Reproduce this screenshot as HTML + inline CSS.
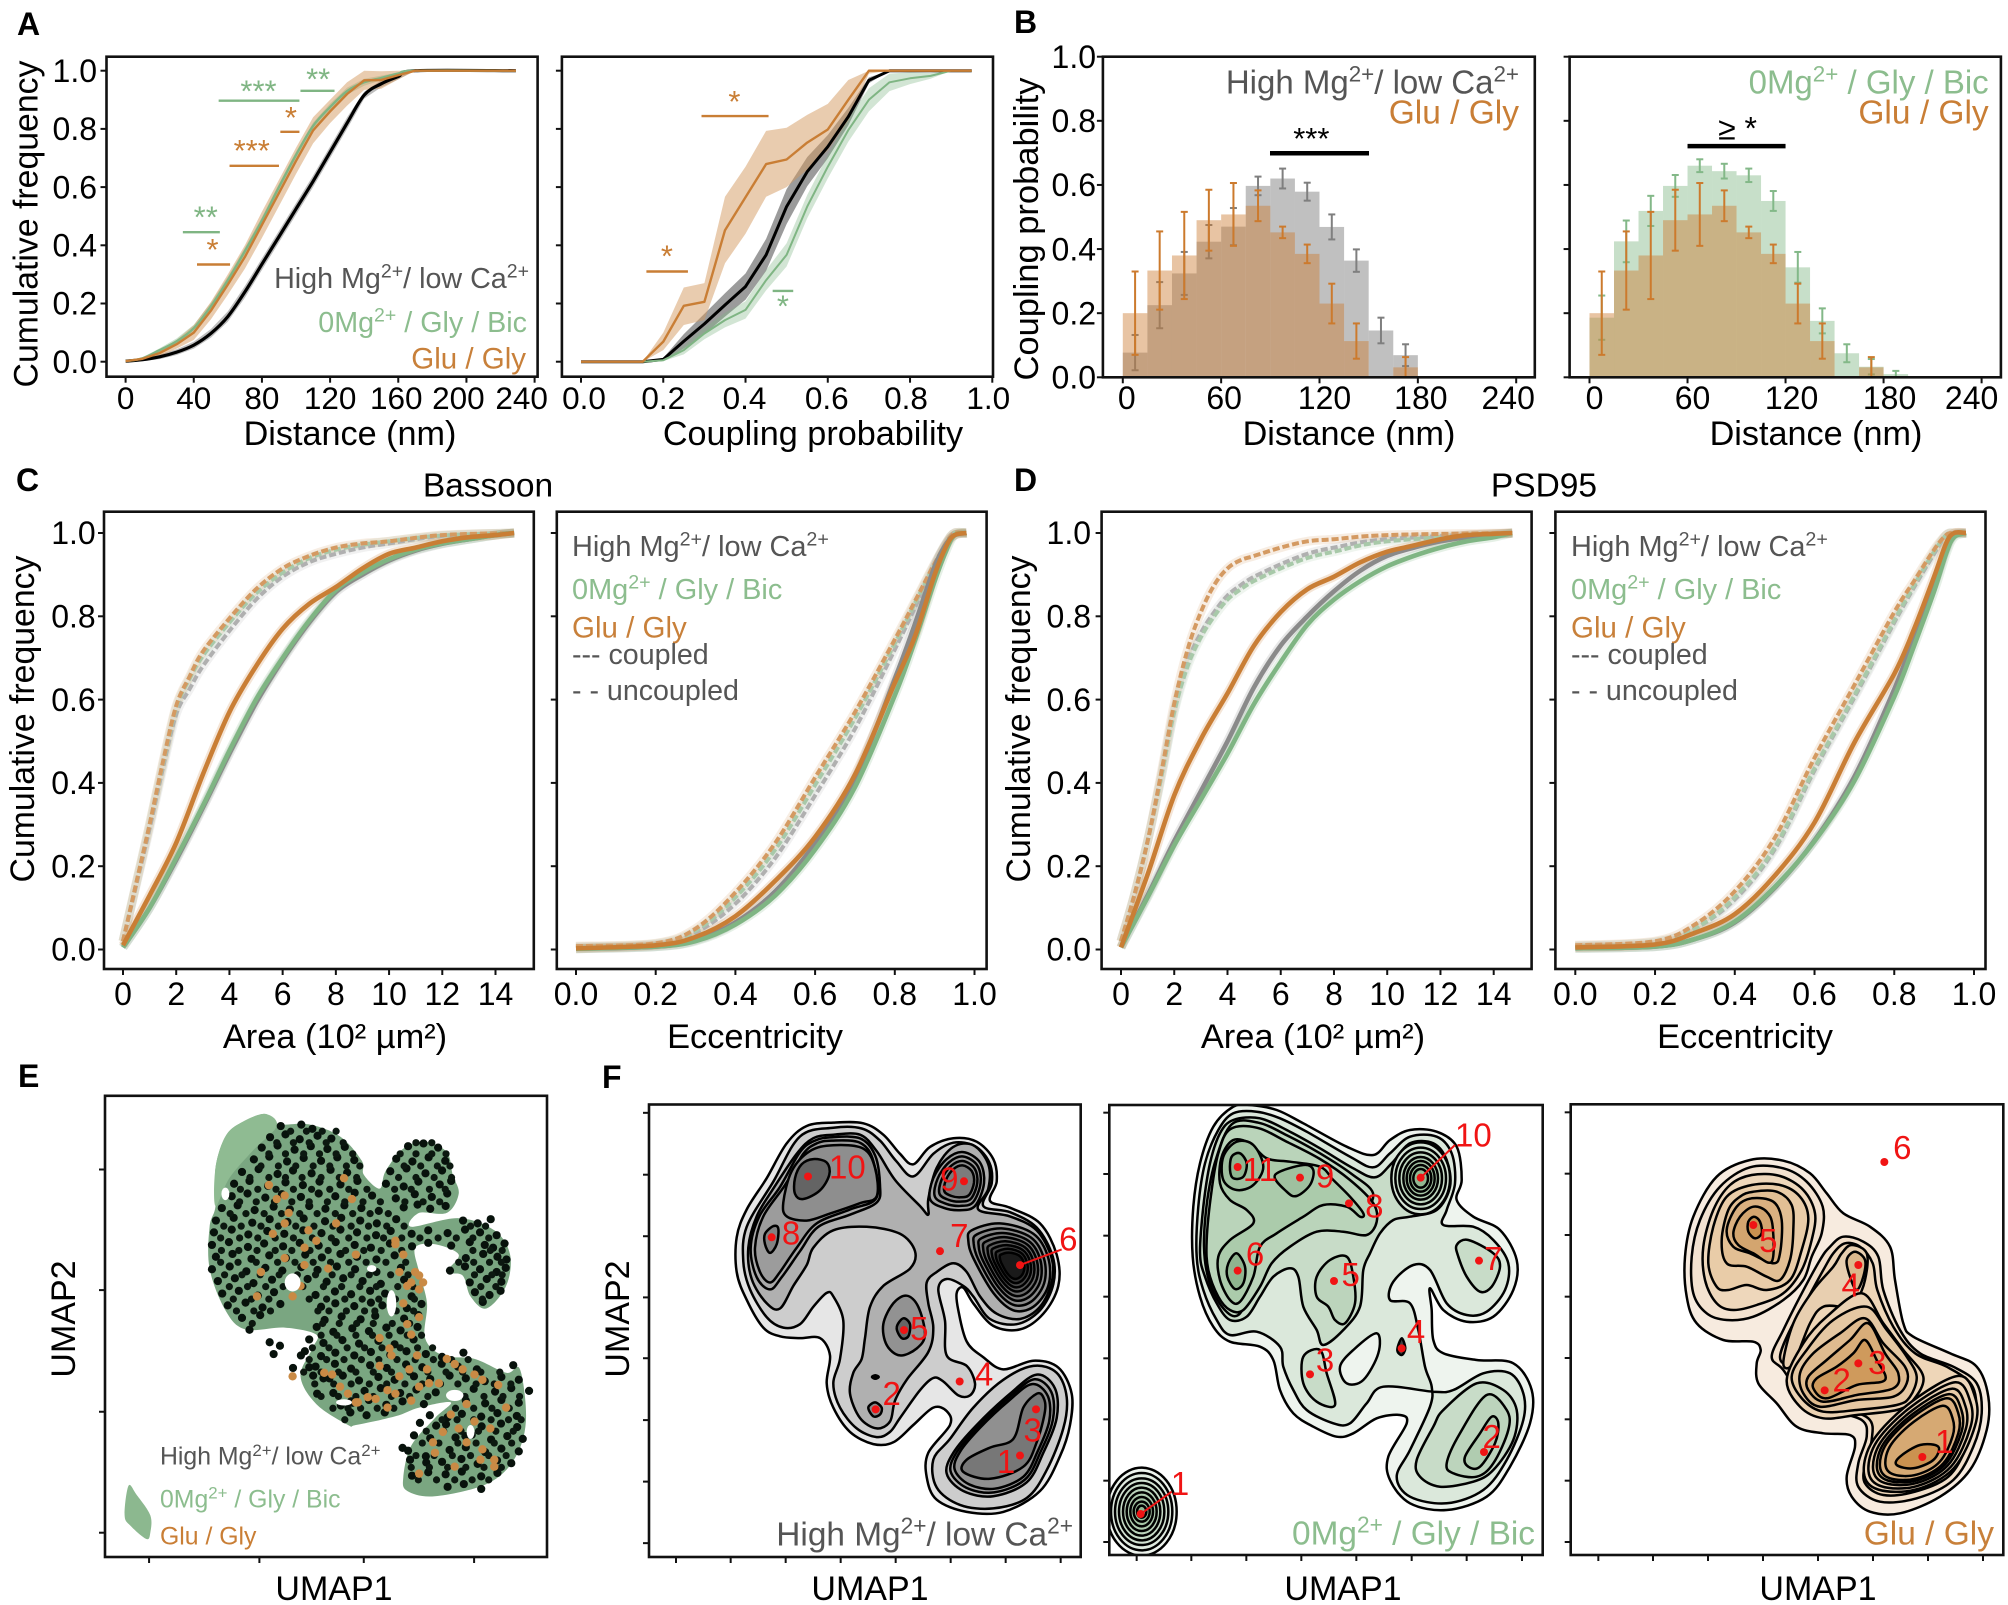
<!DOCTYPE html>
<html lang="en">
<head>
<meta charset="utf-8">
<title>Coupling and UMAP figure</title>
<style>
html,body{margin:0;padding:0;background:#fff;}
svg{display:block;}
text{font-family:"Liberation Sans",Arial,sans-serif;white-space:pre;}
</style>
</head>
<body>
<svg id="fig" xmlns="http://www.w3.org/2000/svg" width="2008" height="1605" viewBox="0 0 2008 1605"></svg>
<script>
/* ---------- Panel A data ---------- */
const aDistX=[0,10,20,30,40,50,60,70,80,90,100,110,120,130,140,150,160,170,229];
const aDistBlack=[.002,.007,.017,.033,.057,.097,.155,.24,.335,.43,.525,.62,.72,.82,.916,.955,.98,1,1];
const aDistOrange=[.002,.01,.03,.06,.1,.175,.265,.36,.47,.58,.69,.795,.86,.92,.967,.968,.985,1,1];
const aDistGreen=[.002,.012,.04,.07,.115,.19,.28,.38,.485,.6,.71,.81,.875,.93,.96,.975,.99,1,1];
const aDistBlackErr=[.004,.005,.008,.01,.012,.015,.018,.02,.02,.02,.02,.02,.02,.02,.012,.012,.01,0,0];
const aDistOrangeErr=[0,.005,.01,.015,.025,.03,.035,.04,.045,.045,.045,.045,.04,.04,.033,.03,.015,0,0];
const aDistGreenErr=[0,.003,.006,.01,.012,.012,.012,.012,.012,.012,.012,.012,.012,.012,.012,.008,.005,0,0];
const aProbX=[0,.15,.2,.25,.3,.35,.4,.45,.5,.55,.6,.65,.7,.75,.8,.85,.9,.95];
const aProbBlack=[0,0,.008,.07,.13,.195,.258,.367,.533,.653,.739,.842,.967,1,1,1,1,1];
const aProbBlackErr=[0,0,.005,.025,.035,.04,.045,.055,.06,.05,.04,.03,.01,0,0,0,0,0];
const aProbOrange=[0,0,.069,.192,.206,.452,.565,.679,.695,.753,.798,.9,1,1,1,1,1,1];
const aProbOrangeHi=[0,0,.1,.255,.27,.567,.67,.793,.804,.848,.886,.968,1,1,1,1,1,1];
const aProbOrangeLo=[0,0,.04,.126,.143,.338,.44,.567,.6,.66,.727,.83,.99,1,1,1,1,1];
const aProbGreen=[0,0,.005,.04,.097,.143,.178,.28,.367,.533,.67,.796,.9,.96,.974,.982,1,1];
const aProbGreenErr=[0,0,.003,.015,.02,.025,.03,.035,.04,.04,.04,.04,.04,.03,.02,.01,0,0];
const unitTicks=[0,.2,.4,.6,.8,1];
const unitTickLabels=['0.0','0.2','0.4','0.6','0.8','1.0'];
const aDistTicks=[0,40,80,120,160,200,240];
const aDistTickLabels=['0','40','80','120','160','200','240'];
const bDistTicks=[0,60,120,180,240];
const bDistTickLabels=['0','60','120','180','240'];
const areaTicks=[0,2,4,6,8,10,12,14];
const areaTickLabels=['0','2','4','6','8','10','12','14'];

/* significance annotations: x1, x2, y of bar in data units */
const aDistSigGreen=[[102.6,122.6,.931],[54.6,102,.897],[33.6,55.3,.445]];
const aDistSigOrange=[[90.8,102,.79],[61,90,.673],[41.9,61.3,.334]];
const aDistStarGreen=[['**',113,.985],['***',78,.945],['**',47,.512]];
const aDistStarOrange=[['*',97,.853],['***',74,.739],['*',51,.399]];
const aProbSigOrange=[[.293,.456,.844],[.159,.26,.31]];
const aProbStarOrange=[['*',.373,.909],['*',.209,.378]];
const aProbSigGreen=[[.466,.516,.243]];
const aProbStarGreen=[['*',.491,.206]];

/* ---------- Panel B data ---------- */
const bBins=[0,15,30,45,60,75,90,105,120,135,150,165,180];
const bGray=[.077,.225,.324,.423,.47,.597,.62,.579,.469,.364,.146,.069,0];
const bGrayErr=[.055,.072,.067,.052,.058,.029,.031,.028,.039,.035,.04,.034,0];
const bOrange=[.2,.333,.38,.49,.508,.535,.452,.385,.23,.113,0,.031,0];
const bOrangeErr=[.13,.122,.136,.095,.098,.048,.018,.029,.062,.055,0,.032,0];
const bGreen=[.186,.424,.519,.597,.66,.643,.63,.55,.343,.176,.075,.033,.01];
const bGreenErr=[.069,.065,.047,.034,.02,.023,.021,.031,.048,.039,.028,.024,.01];

/* ---------- Panels C, D data ---------- */
const cAreaX=[0,1,2,3,4,5,6,7,8,9,10,11,12,13,14,14.7];
const cAreaGreen=[.005,.1,.22,.345,.477,.6,.7,.79,.863,.905,.937,.96,.975,.985,.995,1];
const cAreaGray=[.005,.1,.215,.34,.47,.592,.695,.785,.858,.9,.934,.958,.974,.985,.995,1];
const cAreaOrange=[.01,.13,.256,.42,.57,.68,.77,.83,.87,.915,.95,.965,.98,.99,.995,1];
const cAreaDashX=[0,.5,1,1.5,2,2.5,3,4,5,6,7,8,9,10,12,14.7];
const cAreaDashOrange=[.02,.16,.3,.45,.585,.655,.715,.795,.865,.915,.945,.965,.975,.98,.995,1];
const cAreaDashGreen=[.02,.16,.3,.445,.58,.65,.705,.785,.855,.905,.94,.96,.972,.98,.994,1];
const cAreaDashGray=[.02,.155,.29,.435,.565,.625,.68,.765,.84,.895,.93,.95,.965,.975,.993,1];
const eccX=[0,.2,.3,.4,.5,.6,.7,.8,.85,.9,.93,.95,.98];
const cEccGreen=[.002,.007,.02,.06,.13,.24,.39,.61,.74,.885,.96,.995,1];
const cEccGray=[.002,.007,.022,.065,.14,.255,.41,.65,.78,.92,.975,.995,1];
const cEccOrange=[.003,.01,.03,.08,.165,.27,.42,.64,.75,.9,.97,.995,1];
const cEccDashOrange=[.008,.015,.05,.137,.256,.413,.57,.744,.835,.927,.978,1,1];
const cEccDashGreen=[.006,.014,.045,.125,.24,.395,.555,.735,.83,.925,.978,1,1];
const cEccDashGray=[.006,.012,.04,.11,.22,.37,.53,.72,.82,.92,.975,1,1];
const dAreaGreen=[.005,.125,.25,.36,.47,.59,.69,.78,.84,.885,.92,.945,.965,.98,.99,1];
const dAreaGray=[.005,.13,.26,.38,.5,.63,.73,.8,.86,.91,.945,.965,.98,.99,.995,1];
const dAreaOrange=[.005,.18,.37,.505,.615,.73,.81,.865,.895,.93,.955,.97,.985,.995,.998,1];
const dAreaDashX=[0,.5,1,1.5,2,2.5,3,3.5,4,4.5,5,6,7,8,10,14.7];
const dAreaDashOrange=[.02,.13,.26,.42,.59,.72,.81,.875,.915,.935,.945,.965,.98,.985,.995,1];
const dAreaDashGreen=[.02,.13,.26,.41,.57,.68,.75,.8,.84,.865,.885,.915,.94,.955,.98,1];
const dAreaDashGray=[.02,.13,.26,.41,.575,.69,.76,.81,.85,.875,.895,.925,.95,.965,.985,1];
const dEccGreen=[.003,.007,.025,.067,.15,.26,.405,.607,.73,.86,.95,.99,1];
const dEccGray=[.003,.007,.025,.065,.148,.262,.415,.625,.75,.875,.96,.995,1];
const dEccOrange=[.005,.012,.04,.085,.177,.305,.497,.662,.77,.895,.975,1,1];
const dEccDashOrange=[.01,.02,.06,.14,.268,.46,.635,.81,.885,.96,.995,1,1];
const dEccDashGreen=[.008,.018,.05,.125,.245,.435,.61,.79,.875,.955,.995,1,1];
const dEccDashGray=[.008,.017,.05,.12,.24,.43,.605,.785,.87,.95,.995,1,1];

/* ---------- Panel E data (arbitrary UMAP units) ---------- */
const eTicksX=[377,656,920,1199];
const eTicksY=[315,662,1012,1360];
const eBlobMain=[[670,155],[700,185],[780,185],[860,220],[915,290],[920,330],[960,370],[975,320],[1020,255],[1075,235],[1130,265],[1145,330],[1160,385],[1130,440],[1060,440],[1040,480],[1160,455],[1250,490],[1290,560],[1280,650],[1230,715],[1190,680],[1170,620],[1130,610],[1160,560],[1100,530],[1050,540],[1060,610],[1080,700],[1075,800],[1120,850],[1200,860],[1280,900],[1315,890],[1330,1040],[1300,1150],[1230,1220],[1100,1255],[1030,1240],[1020,1200],[1040,1110],[1100,1030],[1140,985],[1060,1000],[1000,1025],[900,1050],[880,1050],[800,990],[760,910],[790,830],[800,790],[720,770],[620,775],[570,720],[530,600],[530,480],[545,420],[545,310],[570,220],[610,180]];
const eBlobCap=[[670,155],[700,190],[640,260],[580,340],[545,420],[545,310],[570,220],[610,180]];
const eBlobIsland=[[325,1225],[345,1250],[380,1310],[380,1360],[370,1378],[330,1340],[315,1310]];
const eHoles=[[740,640,20,26],[990,700,12,38],[1150,965,22,16],[1190,1070,10,20],[570,385,10,18],[870,985,20,9],[940,600,12,10]];
const eBlackU=[710,762,790,683,722,758,803,838,662,702,745,786,828,872,1032,1071,1108,642,681,726,768,812,853,896,1002,1043,1084,1126,612,654,702,741,788,836,878,987,1028,1076,1118,592,631,678,722,766,808,861,904,976,1021,1058,1112,1141,586,626,671,713,761,806,848,897,941,1001,1049,1092,1131,561,601,644,692,733,782,823,871,914,958,1021,1056,1088,1127,546,591,638,682,727,768,822,863,911,953,1002,1171,1208,1241,541,586,628,676,719,767,813,861,903,951,988,1041,1083,1132,1176,1214,1256,536,579,627,668,716,758,806,849,897,938,986,1042,1083,1141,1188,1226,1247,1276,546,588,636,681,723,772,814,861,903,952,998,1178,1222,1258,1281,536,581,623,671,714,762,803,852,898,952,1014,1138,1176,1214,1256,1279,551,594,641,688,736,778,826,868,917,963,1022,1188,1231,1268,562,604,652,693,798,847,888,936,974,1041,1201,1238,1266,576,621,664,709,812,848,896,938,967,1029,1066,1221,612,658,821,864,912,949,1022,1058,631,801,843,891,933,977,1013,1056,682,708,782,818,866,908,957,998,1046,692,771,812,848,896,938,987,1028,1077,1118,1172,761,798,847,888,936,978,1027,1068,1117,1158,1206,1298,741,782,818,867,908,957,998,1047,1088,1137,1178,1226,1268,1312,792,833,922,963,1012,1053,1102,1198,1252,1293,1338,802,843,892,933,977,1018,1072,1178,1227,1268,1312,862,888,927,973,1132,1168,1217,1258,1307,886,1087,1128,1177,1218,1267,1308,1062,1103,1152,1193,1242,1283,1322,1047,1088,1137,1178,1227,1268,1312,1018,1032,1077,1118,1167,1208,1257,1293,1037,1078,1127,1168,1217,1258,1042,1083,1132,1173,1217];
const eBlackV=[190,186,198,222,214,228,218,226,252,246,258,248,256,250,248,240,252,286,278,292,282,290,280,288,284,292,280,290,322,314,328,318,326,316,324,320,312,326,318,356,348,362,352,360,350,358,348,356,364,350,358,348,392,384,396,386,394,384,392,382,390,398,386,394,384,426,418,432,422,430,420,428,418,426,434,424,416,428,420,462,454,468,458,466,456,464,454,462,470,458,462,470,458,496,488,502,492,500,490,498,488,496,504,492,500,490,498,488,496,504,532,524,538,528,536,526,534,524,532,540,528,536,526,534,524,532,540,528,566,558,572,562,570,560,568,558,566,574,562,570,558,566,574,602,594,608,598,606,596,604,594,602,610,598,606,594,602,610,598,636,628,642,632,640,630,638,628,636,644,632,640,630,638,672,664,678,668,676,666,674,664,672,680,668,676,664,706,698,712,702,710,700,708,698,706,714,702,696,742,734,748,738,746,736,744,734,776,768,782,772,780,770,778,768,812,822,804,814,806,816,808,818,804,846,838,852,842,850,840,848,838,846,854,842,850,882,874,888,878,886,876,884,874,882,890,878,886,884,916,908,922,912,920,910,918,908,916,924,912,920,908,916,952,944,958,948,956,946,954,944,952,960,958,986,978,992,982,990,980,988,978,986,994,982,1022,1014,1028,1018,1026,1016,1024,1014,1022,1048,1082,1054,1046,1056,1044,1052,1086,1078,1092,1082,1090,1080,1088,1122,1114,1128,1118,1126,1116,1124,1140,1156,1148,1162,1152,1160,1150,1158,1192,1184,1198,1188,1196,1186,1228,1220,1234,1224,1232];
const eBlackRowV=[205,238,270,305,338,372,408,442,478,512,548,582,618,652,688,722,758,792,828,862,898,932,968,1002,1035,1068,1102,1138,1172,1208];
const eBlackRowU=[
[735,775,815,850],
[700,742,782,825,868,1052,1092],
[680,722,768,808,850,892,1012,1052,1092,1128],
[660,704,748,792,834,876,910,1022,1064,1106,1138],
[632,680,722,764,812,858,902,1008,1052,1098,1142],
[608,652,698,742,788,834,882,928,998,1040,1086,1126],
[606,648,694,738,782,828,872,918,962,1024,1070,1112],
[582,622,668,712,758,802,848,892,936,982],
[566,610,660,704,748,794,842,888,932,978,1022,1190,1228],
[558,606,652,696,742,790,838,882,928,970,1016,1062,1108,1154,1196,1236],
[560,604,650,696,738,784,830,874,920,964,1016,1196,1240,1270],
[558,602,648,702,746,792,836,882,926,976,1026,1160,1198,1238,1268],
[568,612,658,706,752,798,840,888,934,988,1032,1200,1244,1270],
[580,626,672,716,766,818,864,910,952,1006,1044,1216,1254],
[590,636,680,782,826,872,916,958,1000,1048,1220],
[598,642,684,804,832,876,922,948,1002,1046],
[638,816,858,902,944,992,1036],
[812,852,900,942,984,1030,1066],
[790,832,878,922,966,1012,1056,1094],
[782,826,870,914,958,1004,1050,1096,1142,1184],
[768,812,856,900,944,990,1036,1082,1128,1170,1216,1264],
[796,844,888,934,978,1024,1068,1114,1158,1204,1250,1292],
[812,856,900,944,990,1036,1082,1176,1224,1272,1314],
[842,880,912,954,996,1152,1198,1244,1288],
[872,1118,1156,1198,1242,1286,1318],
[1078,1122,1166,1210,1254,1298],
[1068,1110,1158,1204,1250,1294],
[1052,1098,1144,1190,1236,1280],
[1040,1086,1132,1178,1224,1268],
[1058,1104,1150,1194,1236]
];
const eOrangeU=[680,720,870,890,730,780,690,720,770,830,650,740,1000,1020,1050,1030,1060,1020,1060,1040,960,990,960,1010,1080,1130,1170,1220,840,880,930,980,1060,1110,1180,1120,1100,1180,1240,1220,1280,1060,1150,1250,700,660,900,800,850,760,980,740,1200,1040,1000,1060,900,950,1140,1250,820,860,905,1000,1035,1085,1150,1200,1260,1010,1040,1070,1030,985,1055,1095,1160,1215,720,770];
const eOrangeV=[360,390,340,400,440,490,500,570,590,600,680,680,520,560,610,650,660,700,740,790,800,850,880,910,890,860,890,920,905,960,970,1000,940,930,990,1070,1130,1100,1060,1120,1000,1190,1170,1170,400,610,560,520,470,650,950,910,1040,980,530,620,985,975,1020,1150,900,940,985,960,890,930,875,905,935,610,640,640,760,830,850,1100,1060,1150,470,540];

/* ---------- Panel F ticks (arbitrary UMAP units) ---------- */
const f1TicksX=[228,392,557,722,887,1052,1217,1382];
const f1TicksY=[152,330,507,683,858,1036,1213,1390];
const f2TicksX=[140,304,469,634,799,965,1130,1296];
const f2TicksY=[68,252,437,620,805,988,1172,1356];
const f3TicksX=[145,309,474,639,804,969,1134,1299];
const f3TicksY=[67,251,435,620,804,988,1172,1356];

/* ---------- Panel F1 contours ---------- */
const f1Outer=[[700,180],[790,182],[850,215],[900,270],[940,300],[990,250],[1060,225],[1130,235],[1180,285],[1190,350],[1170,405],[1230,425],[1320,470],[1370,560],[1375,650],[1330,730],[1260,775],[1180,765],[1120,700],[1090,655],[1070,670],[1075,720],[1100,810],[1150,855],[1210,890],[1300,865],[1375,885],[1415,960],[1410,1050],[1380,1140],[1320,1240],[1210,1300],[1100,1300],[1010,1265],[980,1200],[985,1130],[1050,1050],[1040,1010],[1000,1000],[940,1050],[880,1100],[820,1105],[750,1070],[700,1000],[680,930],[690,850],[660,800],[600,800],[540,795],[490,770],[440,690],[410,610],[410,510],[440,430],[500,340],[560,240],[620,190]];
const f1Upper=[[700,195],[785,197],[840,232],[888,290],[940,335],[1000,270],[1060,238],[1125,248],[1168,295],[1175,355],[1150,420],[1230,438],[1310,482],[1358,565],[1360,645],[1320,720],[1250,760],[1170,745],[1120,680],[1090,650],[1040,630],[1015,660],[1035,750],[1040,850],[1100,880],[1125,930],[1110,965],[1075,965],[1030,925],[1000,915],[960,950],[900,1030],[870,1070],[830,1085],[770,1060],[720,1000],[700,930],[720,860],[730,750],[700,680],[680,670],[640,710],[600,760],[550,770],[500,740],[450,660],[430,580],[440,480],[520,350],[600,220]];
const f1LowerLobe=[[1300,880],[1370,900],[1400,970],[1390,1060],[1340,1180],[1280,1260],[1180,1290],[1080,1280],[1010,1230],[1000,1150],[1050,1090],[1120,1000],[1210,920]];
const f1Mid=[[700,215],[780,215],[830,262],[885,345],[960,420],[985,445],[985,400],[1010,310],[1060,250],[1120,245],[1165,300],[1165,370],[1135,430],[1230,450],[1310,490],[1355,570],[1355,640],[1320,710],[1260,745],[1190,730],[1140,680],[1100,610],[1060,585],[1010,610],[980,640],[985,700],[1000,770],[985,840],[920,920],[885,980],[870,1040],[830,1060],[780,1030],[750,960],[760,900],[785,860],[795,800],[810,710],[850,650],[930,600],[945,550],[900,500],[800,480],[700,490],[640,540],[620,590],[580,650],[540,715],[500,700],[455,630],[445,540],[470,450],[520,370],[590,270],[640,225]];
const f1TopLeft0=[[697,222],[782,226],[826,276],[840,360],[830,410],[750,445],[655,480],[600,550],[545,625],[510,660],[470,625],[452,540],[478,450],[540,365],[600,265],[645,232]];
const f1TopLeft=[[695,232],[780,238],[820,290],[830,395],[750,430],[650,470],[590,540],[540,610],[510,640],[480,610],[465,540],[490,450],[555,360],[610,270],[650,240]];
const f1Lobe10=[[700,245],[790,255],[825,310],[830,392],[780,412],[690,442],[620,462],[560,450],[550,410],[575,320],[630,262]];
const f1Core10=[[640,285],[680,295],[688,330],[660,375],[610,400],[585,385],[585,340],[605,300]];
const f1Core8=[[495,500],[520,478],[535,485],[530,530],[510,555],[495,530]];
const f1Lobe5=[[850,760],[880,700],[920,678],[955,710],[975,790],[950,830],[900,850],[860,820]];
const f1Core5=[[890,770],[910,743],[930,760],[925,795],[905,800]];
const f1Core2=[[805,1000],[825,985],[845,1000],[840,1020],[820,1025]];
const f1Spot=[[816,912],[826,907],[836,912],[826,917]];
const f1Layers=[f1Outer,f1Upper,f1LowerLobe,f1Mid,f1TopLeft0,f1TopLeft,f1Lobe10,f1Core10,f1Core8,f1Lobe5,f1Core5,f1Core2,f1Spot];
const f1LayerFills=['#e6e6e6','#cdcdcd','#cdcdcd','#b0b0b0','#a8a8a8','#9c9c9c','#8e8e8e','#646464','#828282','#929292','#666666','#888888','#000000'];
const f1Lobe9=[[1000,340],[1040,285],[1090,265],[1140,295],[1152,355],[1125,420],[1080,432],[1030,425],[990,400]];
const f1Lobe9Center=[1085,350];
const f1Lobe9Scales=[1,.85,.7,.55];
const f1Lobe9Fills=['#a4a4a4','#989898','#8a8a8a','#7c7c7c'];
const f1Peak6=[[1115,490],[1200,470],[1300,500],[1345,570],[1345,650],[1300,710],[1240,720],[1180,670],[1120,570],[1105,520]];
const f1Peak6Center=[1240,590];
const f1Peak6Scales=[1,.88,.77,.67,.57,.48,.39,.3];
const f1Peak6Fills=['#989898','#8a8a8a','#7a7a7a','#6a6a6a','#5a5a5a','#484848','#333333','#1a1a1a'];
const f1Lobe1=[[1310,905],[1365,945],[1370,1030],[1330,1130],[1280,1215],[1180,1255],[1090,1240],[1040,1190],[1060,1130],[1130,1050],[1230,960]];
const f1Lobe1Center=[1210,1100];
const f1Lobe1Scales=[1,.93,.86];
const f1Lobe1Fills=['#b4b4b4','#a2a2a2','#909090'];
const f1Lobe1Core=[[1330,970],[1335,1010],[1310,1100],[1270,1170],[1170,1205],[1090,1185],[1100,1150],[1170,1115],[1240,1090],[1270,1000],[1310,960]];
const f1MarkerIds=['1','2','3','4','5','6','7','8','9','10'];
const f1MarkerU=[1260,827,1308,1079,912,1260,1020,515,1092,624];
const f1MarkerV=[1138,1005,1005,925,777,590,550,510,349,335];
const f1NumberU=[1218,875,1298,1152,958,1405,1078,573,1048,742];
const f1NumberV=[1155,960,1065,903,772,515,505,498,342,308];

/* ---------- Panel F2 contours ---------- */
const f2Outer=[[430,50],[480,45],[560,60],[640,100],[770,170],[850,195],[900,150],[960,120],[1040,125],[1100,170],[1115,270],[1100,330],[1150,380],[1230,420],[1280,510],[1270,600],[1210,680],[1130,695],[1060,660],[1020,595],[1025,660],[1030,750],[1060,790],[1160,810],[1270,820],[1325,900],[1320,1000],[1260,1130],[1190,1220],[1070,1260],[960,1240],[900,1170],[895,1100],[950,1000],[930,975],[860,985],[790,1030],[740,1040],[670,1010],[610,970],[570,900],[550,810],[510,770],[420,755],[370,710],[330,620],[308,500],[310,350],[330,220],[370,110]];
const f2Ring1=[[430,70],[500,65],[570,85],[650,125],[780,200],[850,232],[900,190],[960,140],[1040,140],[1085,190],[1095,280],[1070,360],[1060,405],[1150,410],[1210,450],[1255,520],[1245,600],[1190,665],[1130,675],[1070,640],[1020,540],[970,525],[910,575],[900,630],[960,640],[985,720],[1005,830],[1025,890],[1020,950],[960,1080],[920,1160],[960,1220],[1070,1240],[1180,1200],[1250,1110],[1300,990],[1300,910],[1260,850],[1180,850],[1090,900],[1030,905],[880,890],[830,940],[780,1000],[730,1000],[650,960],[610,900],[580,830],[570,770],[500,725],[420,735],[380,690],[340,600],[320,500],[325,350],[345,220],[385,120]];
const f2Hole=[[750,830],[790,780],[860,730],[865,790],[820,870],[770,880]];
const f2Ring2=[[430,90],[510,85],[600,125],[690,175],[790,235],[855,262],[905,220],[960,160],[1030,160],[1070,210],[1080,290],[1040,360],[960,380],[910,390],[870,430],[840,490],[820,540],[810,650],[760,720],[700,765],[680,720],[640,650],[625,560],[600,535],[550,560],[510,620],[470,680],[420,690],[380,640],[345,560],[330,490],[340,350],[360,220],[390,130]];
const f2Lobe3=[[640,800],[690,780],[710,850],[735,945],[680,935],[640,880]];
const f2Lobe5=[[680,560],[720,510],[770,500],[790,560],[795,640],[765,700],[735,690],[715,650],[680,620]];
const f2Lobe7=[[1100,465],[1135,450],[1210,490],[1230,530],[1205,590],[1170,605],[1130,560],[1105,500]];
const f2Bundle=[[425,103],[505,98],[595,138],[690,190],[785,252],[850,315],[790,390],[650,405],[540,480],[490,590],[445,675],[400,655],[358,575],[342,470],[352,330],[377,210]];
const f2Ring3=[[420,118],[500,113],[590,155],[690,207],[780,270],[850,340],[860,395],[830,435],[760,425],[680,425],[600,470],[545,520],[510,590],[460,660],[420,660],[385,620],[355,540],[350,450],[365,300],[385,190]];
const f2Core=[[430,150],[480,160],[530,205],[600,215],[690,230],[730,270],[780,320],[820,370],[810,380],[770,350],[700,345],[640,380],[560,430],[510,470],[490,560],[450,635],[420,630],[390,570],[385,500],[420,450],[490,400],[470,360],[420,330],[390,280],[395,200]];
const f2Lobe11=[[400,200],[440,155],[490,165],[520,230],[490,285],[440,300],[400,270]];
const f2Core11=[[425,200],[450,190],[470,220],[460,260],[430,265],[420,240]];
const f2Lobe9=[[555,255],[640,225],[670,240],[660,285],[620,318],[590,305]];
const f2Lobe6=[[415,520],[440,490],[465,530],[460,580],[435,597],[412,560]];
const f2Lobe2A=[[1060,960],[1160,880],[1240,900],[1280,960],[1270,1050],[1210,1140],[1150,1175],[1050,1190],[990,1160],[980,1110],[1030,1010]];
const f2Lobe2B=[[1190,915],[1250,960],[1255,1020],[1210,1120],[1160,1160],[1090,1150],[1070,1120],[1110,1030]];
const f2Lobe2C=[[1205,980],[1225,1000],[1215,1060],[1170,1130],[1135,1130],[1125,1100],[1170,1030]];
const f2Spot4=[[935,745],[946,775],[935,795],[922,780]];
const f2Layers=[f2Outer,f2Ring1,f2Hole,f2Ring2,f2Lobe3,f2Lobe5,f2Lobe7,f2Bundle,f2Ring3,f2Core,f2Lobe11,f2Core11,f2Lobe9,f2Lobe6,f2Lobe2A,f2Lobe2B,f2Lobe2C,f2Spot4];
const f2LayerFills=['#eef4ee','#dbe8db','#eef4ee','#c8dcc8','#c8dcc8','#bcd4bc','#c8dcc8','#c1d8c1','#bad4ba','#abcbab','#9fc09f','#8fb58f','#9fc09f','#8fb58f','#c8dcc8','#bcd4bc','#b0ccb0','#444444'];
const f2Peak10Center=[992,265];
const f2Peak10Radii=[[88,108],[76,92],[64,78],[52,64],[42,52],[32,40],[22,28]];
const f2Peak10Fills=['#d6e5d6','#cadeca','#bed6be','#b2cfb2','#a6c7a6','#9cc09c','#92b992'];
const f2Peak1Center=[155,1265];
const f2Peak1Radii=[[105,132],[92,116],[80,100],[68,86],[56,72],[45,58],[34,44],[24,30],[14,18]];
const f2Peak1Fills=['#eef4ee','#e0ebe0','#d2e2d2','#c6dbc6','#bad3ba','#aecbae','#a4c4a4','#9abd9a','#90b690'];
const f2MarkerIds=['1','2','3','4','5','6','7','8','9','10','11'];
const f2MarkerU=[152,1182,660,935,732,443,1167,777,630,992,443];
const f2MarkerV=[1272,1086,853,775,573,542,512,340,263,263,231];
const f2NumberU=[270,1205,705,978,782,495,1210,853,705,1150,510];
const f2NumberV=[1180,1040,810,725,553,492,505,348,258,135,238];

/* ---------- Panel F3 contours ---------- */
const f3Outer=[[600,210],[700,212],[780,250],[830,310],[880,370],[960,410],[1020,470],[1035,570],[1060,700],[1090,740],[1200,790],[1280,830],[1315,920],[1310,1020],[1260,1140],[1170,1220],[1050,1270],[960,1265],[905,1220],[890,1160],[915,1070],[900,1035],[820,1030],[740,1010],[680,940],[625,880],[620,820],[632,780],[610,755],[520,750],[440,700],[410,620],[405,500],[430,380],[500,260]];
const f3U1=[[600,232],[700,235],[770,275],[818,350],[815,430],[785,500],[760,570],[700,630],[610,680],[530,690],[470,670],[430,610],[425,500],[450,390],[510,290]];
const f3U2=[[605,255],[690,258],[760,300],[795,370],[785,450],[755,540],[700,610],[620,645],[550,660],[500,640],[465,570],[460,470],[490,360],[540,285]];
const f3U3=[[605,285],[690,285],[750,320],[775,385],[755,480],[720,570],[650,600],[590,585],[535,600],[500,590],[475,520],[490,410],[530,320]];
const f3U4=[[610,305],[680,305],[725,345],[730,420],[720,510],[690,570],[650,560],[590,530],[530,520],[515,450],[535,360],[570,320]];
const f3U5=[[605,325],[670,335],[695,390],[690,490],[670,520],[600,490],[550,470],[530,420],[560,350]];
const f3U6=[[610,350],[650,365],[668,410],[665,515],[610,490],[565,465],[550,430],[570,380]];
const f3U7=[[612,380],[630,395],[635,430],[615,445],[595,425],[595,395]];
const f3A1=[[880,440],[940,455],[985,500],[1000,600],[1050,720],[1110,790],[1210,830],[1280,880],[1295,970],[1270,1070],[1210,1170],[1100,1225],[990,1235],[925,1190],[925,1120],[950,1040],[935,990],[840,960],[760,925],[700,840],[665,800],[700,720],[750,620],[810,510],[840,470]];
const f3A2=[[885,460],[930,470],[968,520],[982,600],[1030,710],[1095,790],[1190,830],[1265,885],[1278,970],[1250,1070],[1195,1160],[1095,1205],[1000,1215],[945,1180],[945,1120],[965,1050],[955,985],[845,945],[770,905],[715,835],[690,800],[720,720],[765,640],[820,540],[850,490]];
const f3Lobe4=[[875,490],[905,465],[950,490],[945,570],[920,630],[890,650],[820,650],[780,700],[730,820],[700,820],[730,700],[790,600],[850,530]];
const f3Lobe4Core=[[890,510],[915,485],[945,510],[940,560],[920,600],[900,560]];
const f3M0=[[935,610],[1000,700],[1060,780],[1120,860],[1090,930],[1040,960],[920,975],[820,985],[750,950],[710,870],[760,760],[830,680]];
const f3M1=[[950,650],[1010,720],[1070,800],[1100,860],[1080,920],[1040,945],[920,960],[820,965],[760,930],[725,860],[770,780],[850,690]];
const f3M2=[[945,685],[1000,760],[1065,830],[1070,880],[1030,920],[920,930],[810,950],[760,910],[750,850],[790,790],[870,730]];
const f3M3=[[955,700],[1005,790],[1045,850],[1030,895],[920,915],[820,935],[775,900],[775,860],[830,810],[900,750]];
const f3M4=[[945,750],[980,810],[1005,870],[920,885],[830,925],[790,895],[800,865],[860,830],[910,790]];
const f3Layers=[f3Outer,f3U1,f3U2,f3U3,f3U4,f3U5,f3U6,f3U7,f3A1,f3A2,f3Lobe4,f3Lobe4Core,f3M0,f3M1,f3M2,f3M3,f3M4];
const f3LayerFills=['#f7ebdf','#f3e2d0','#eed7bb','#e9cca8','#e2bf94','#dab080','#d3a56f','#c99250','#f2dfca','#eed6b8','#e8cfb0','#dbb88c','#ebd2b3','#e5c8a3','#dfbb8f','#d8ad79','#cf9a5c'];
const f3Lobe1=[[1190,925],[1225,970],[1225,1030],[1180,1120],[1100,1165],[1020,1165],[990,1130],[1010,1060],[1090,980]];
const f3Lobe1Center=[1105,1085];
const f3Lobe1Scales=[1.42,1.3,1.18,1.08,1,.86];
const f3Lobe1Fills=['#eed7bc','#ecd3b4','#e8cca8','#e2c092','#dcb282','#d6a973'];
const f3Lobe1Core=[[1165,1070],[1150,1110],[1090,1135],[1040,1125],[1050,1100],[1110,1065]];
const f3MarkerIds=['1','2','3','4','5','6'];
const f3MarkerU=[1117,824,925,925,610,1003];
const f3MarkerV=[1101,901,820,525,405,216];
const f3NumberU=[1183,875,982,902,655,1057];
const f3NumberV=[1055,870,818,585,452,173];

/* ---------- helpers ---------- */
const svg=document.getElementById('fig');
const NS='http://www.w3.org/2000/svg';
const BLACK='#000',GRN='#7fb583',ORG='#c97e35',GRY='#8a8a8a',TXTGRY='#555555',TXTGRN='#8cbd8e',TXTORG='#c8803a';

function mk(parent,tag,attrs,name){
  const e=document.createElementNS(NS,tag);
  for(const k in attrs)e.setAttribute(k,attrs[k]);
  
  
  parent.appendChild(e);
  return e;
}
function linear(d0,d1,r0,r1){return v=>r0+(v-d0)*(r1-r0)/(d1-d0);}
function linePath(xs,ys,sx,sy){return xs.map((x,i)=>(i?'L':'M')+sx(x).toFixed(1)+' '+sy(ys[i]).toFixed(1)).join('');}
function smoothPath(xs,ys,sx,sy){
  const p=xs.map((x,i)=>[sx(x),sy(ys[i])]);
  let d='M'+p[0][0].toFixed(1)+' '+p[0][1].toFixed(1);
  for(let i=0;i<p.length-1;i++){
    const a=p[Math.max(i-1,0)],b=p[i],c=p[i+1],e=p[Math.min(i+2,p.length-1)];
    d+='C'+(b[0]+(c[0]-a[0])/6).toFixed(1)+' '+(b[1]+(c[1]-a[1])/6).toFixed(1)+' '+(c[0]-(e[0]-b[0])/6).toFixed(1)+' '+(c[1]-(e[1]-b[1])/6).toFixed(1)+' '+c[0].toFixed(1)+' '+c[1].toFixed(1);
  }
  return d;
}
function bandPath(xs,hi,lo,sx,sy){
  let d='';
  xs.forEach((x,i)=>{d+=(i?'L':'M')+sx(x).toFixed(1)+' '+sy(hi[i]).toFixed(1);});
  for(let i=xs.length-1;i>=0;i--){d+='L'+sx(xs[i]).toFixed(1)+' '+sy(lo[i]).toFixed(1);}
  return d+'Z';
}
function closedPath(pts,sx,sy){
  const p=pts.map(q=>[sx(q[0]),sy(q[1])]),n=p.length;
  let d='M'+p[0][0].toFixed(1)+' '+p[0][1].toFixed(1);
  for(let i=0;i<n;i++){
    const a=p[(i-1+n)%n],b=p[i],c=p[(i+1)%n],e=p[(i+2)%n];
    d+='C'+(b[0]+(c[0]-a[0])/6).toFixed(1)+' '+(b[1]+(c[1]-a[1])/6).toFixed(1)+' '+(c[0]-(e[0]-b[0])/6).toFixed(1)+' '+(c[1]-(e[1]-b[1])/6).toFixed(1)+' '+c[0].toFixed(1)+' '+c[1].toFixed(1);
  }
  return d+'Z';
}
/* text with ^superscript^ segments; y is the vertical centre of the text */
function txt(parent,x,y,str,size,color,anchor,name,rot){
  const base=y+size*.35;
  const attrs={x:x,y:base,'font-size':size,fill:color,'text-anchor':anchor||'middle'};
  if(rot)attrs.transform='rotate(-90 '+x+' '+y+')',attrs.y=base;
  const t=mk(parent,'text',attrs,name);
  const parts=str.split('^');
  if(parts.length===1){t.textContent=str;return t;}
  const lift=size*.36;let pending=0;
  parts.forEach((s,i)=>{
    if(!s)return;
    const sp=document.createElementNS(NS,'tspan');
    if(i%2){sp.setAttribute('font-size',(size*.68).toFixed(1));sp.setAttribute('dy',(-lift).toFixed(1));pending=lift;}
    else if(pending){sp.setAttribute('dy',pending.toFixed(1));pending=0;}
    sp.textContent=s;
    t.appendChild(sp);
  });
  return t;
}
function frame(parent,x0,x1,y0,y1,name){
  return mk(parent,'rect',{x:x0,y:y0,width:x1-x0,height:y1-y0,fill:'none',stroke:'#111',"stroke-width":2.6},name);
}
function axisX(parent,ticks,labels,sx,yAxis,labelY,size,shifts,prefix){
  ticks.forEach((t,i)=>{
    mk(parent,'line',{x1:sx(t),x2:sx(t),y1:yAxis,y2:yAxis+6,stroke:'#111','stroke-width':2},prefix+'-x-tick');
    if(labels)txt(parent,sx(t)+(shifts?shifts[i]:0),labelY,labels[i],size,'#000','middle',prefix+'-x-tick-label');
  });
}
function axisY(parent,ticks,labels,sy,xAxis,labelX,size,prefix){
  ticks.forEach((t,i)=>{
    mk(parent,'line',{x1:xAxis-6,x2:xAxis,y1:sy(t),y2:sy(t),stroke:'#111','stroke-width':2},prefix+'-y-tick');
    if(labels)txt(parent,labelX,sy(t),labels[i],size,'#000','end',prefix+'-y-tick-label');
  });
}
function stars(parent,list,sx,sy,color,name){
  list.forEach(s=>{
    const size=31;
    const t=mk(parent,'text',{x:sx(s[1]),y:sy(s[2])+size*.47,'font-size':size,fill:color,'text-anchor':'middle'},name);
    t.textContent=s[0];
  });
}
function sigBars(parent,list,sx,sy,color,w,name){
  list.forEach(b=>mk(parent,'line',{x1:sx(b[0]),x2:sx(b[1]),y1:sy(b[2]),y2:sy(b[2]),stroke:color,'stroke-width':w},name));
}
function panelLetter(x,y,s){
  const t=mk(svg,'text',{x:x,y:y,'font-size':32,'font-weight':'bold',fill:'#000'},'panel-label-'+s.toLowerCase());
  t.textContent=s;
}
function addBand(g,xs,ys,err,sx,sy,color,op,name){
  const hi=ys.map((v,i)=>Math.min(1,v+err[i])),lo=ys.map((v,i)=>v-err[i]);
  mk(g,'path',{d:bandPath(xs,hi,lo,sx,sy),fill:color,'fill-opacity':op},name);
}
function addLine(g,d,color,w,name,dash){
  const a={d:d,fill:'none',stroke:color,'stroke-width':w,'stroke-linejoin':'round'};
  if(dash)a['stroke-dasharray']=dash;
  mk(g,'path',a,name);
}

/* ---------- letters & titles ---------- */
panelLetter(17,35,'A');panelLetter(1014,33,'B');panelLetter(16,491,'C');panelLetter(1014,491,'D');panelLetter(18,1087,'E');panelLetter(602,1088,'F');
txt(svg,488,485,'Bassoon',33.5,'#000','middle','bassoon-title');
txt(svg,1544,485,'PSD95',33.5,'#000','middle','psd95-title');

/* ---------- Panel A ---------- */
(function(){
  const g=mk(svg,'g',{},'panel-a-distance');
  const sx=linear(0,240,125.6,534.6),sy=linear(0,1,361.7,70.7);
  addBand(g,aDistX,aDistBlack,aDistBlackErr,sx,sy,'#888',.55,'distance-band-high-mg');
  addBand(g,aDistX,aDistGreen,aDistGreenErr,sx,sy,GRN,.4,'distance-band-0mg');
  addBand(g,aDistX,aDistOrange,aDistOrangeErr,sx,sy,'#d49a5f',.5,'distance-band-glu');
  addLine(g,smoothPath(aDistX,aDistBlack,sx,sy),'#000',3.2,'distance-line-high-mg');
  addLine(g,smoothPath(aDistX,aDistGreen,sx,sy),GRN,2.4,'distance-line-0mg');
  addLine(g,linePath(aDistX,aDistOrange,sx,sy),ORG,2.4,'distance-line-glu');
  sigBars(g,aDistSigGreen,sx,sy,GRN,2.4,'significance-bar-green');
  sigBars(g,aDistSigOrange,sx,sy,ORG,2.4,'significance-bar-orange');
  stars(g,aDistStarGreen,sx,sy,GRN,'significance-stars-green');
  stars(g,aDistStarOrange,sx,sy,ORG,'significance-stars-orange');
  frame(g,106.5,537.6,56.7,376.7,'panel-a-distance-frame');
  axisX(g,aDistTicks,aDistTickLabels,sx,376.7,398,31.5,[0,0,0,0,-2,-8,-13],'panel-a-distance');
  axisY(g,unitTicks,unitTickLabels,sy,106.5,97,32,'panel-a-distance');
  txt(g,350,433,'Distance (nm)',34.2,'#000','middle','distance-x-axis-title');
  txt(g,25.5,224,'Cumulative frequency',33.8,'#000','middle','cumulative-y-axis-title',true);
  txt(g,529,278,'High Mg^2+^/ low Ca^2+',28.7,TXTGRY,'end','legend-high-mg');
  txt(g,527,322,'0Mg^2+^ / Gly / Bic',28.7,TXTGRN,'end','legend-0mg');
  txt(g,526,358,'Glu / Gly',29.5,TXTORG,'end','legend-glu');
})();
(function(){
  const g=mk(svg,'g',{},'panel-a-probability');
  const sx=linear(0,1,581,992.3),sy=linear(0,1,361.7,70.7);
  addBand(g,aProbX,aProbBlack,aProbBlackErr,sx,sy,'#666',.65,'probability-band-high-mg');
  addBand(g,aProbX,aProbGreen,aProbGreenErr,sx,sy,GRN,.35,'probability-band-0mg');
  mk(g,'path',{d:bandPath(aProbX,aProbOrangeHi,aProbOrangeLo,sx,sy),fill:'#d49a5f','fill-opacity':.5},'probability-band-glu');
  addLine(g,linePath(aProbX,aProbBlack,sx,sy),'#000',3,'probability-line-high-mg');
  addLine(g,linePath(aProbX,aProbGreen,sx,sy),GRN,2,'probability-line-0mg');
  addLine(g,linePath(aProbX,aProbOrange,sx,sy),ORG,2.4,'probability-line-glu');
  sigBars(g,aProbSigOrange,sx,sy,ORG,2.4,'significance-bar-orange');
  sigBars(g,aProbSigGreen,sx,sy,GRN,2.4,'significance-bar-green');
  stars(g,aProbStarOrange,sx,sy,ORG,'significance-stars-orange');
  stars(g,aProbStarGreen,sx,sy,GRN,'significance-stars-green');
  frame(g,561.9,993,56.7,376.7,'panel-a-probability-frame');
  axisX(g,unitTicks,unitTickLabels,sx,376.7,398,31.5,[3,0,-1,-1,-4,-4],'panel-a-probability');
  axisY(g,unitTicks,null,sy,561.9,0,0,'panel-a-probability');
  txt(g,813,433,'Coupling probability',34.2,'#000','middle','probability-x-axis-title');
})();

/* ---------- Panel B ---------- */
function barsPanel(name,sx,bars,errs,fill,errColor,g,sy){
  bBins.forEach((b,i)=>{
    if(!bars[i])return;
    mk(g,'rect',{x:sx(b),y:sy(bars[i]),width:sx(b+15)-sx(b),height:sy(0)-sy(bars[i]),fill:fill},name+'-bar');
  });
  bBins.forEach((b,i)=>{
    if(!errs[i])return;
    const c=sx(b+7.5),hi=sy(bars[i]+errs[i]),lo=sy(Math.max(0,bars[i]-errs[i]));
    mk(g,'line',{x1:c,x2:c,y1:hi,y2:lo,stroke:errColor,'stroke-width':2},name+'-error-bar');
    mk(g,'line',{x1:c-3.5,x2:c+3.5,y1:hi,y2:hi,stroke:errColor,'stroke-width':2},name+'-error-cap');
    mk(g,'line',{x1:c-3.5,x2:c+3.5,y1:lo,y2:lo,stroke:errColor,'stroke-width':2},name+'-error-cap');
  });
}
(function(){
  const g=mk(svg,'g',{},'panel-b-left');
  const sx=linear(0,240,1122.8,1516.2),sy=linear(0,1,377.3,56.7);
  barsPanel('high-mg',sx,bGray,bGrayErr,'rgba(130,130,130,.5)','#7f7f7f',g,sy);
  barsPanel('glu',sx,bOrange,bOrangeErr,'rgba(205,125,50,.45)','#cc7a2d',g,sy);
  mk(g,'line',{x1:sx(89.8),x2:sx(150.2),y1:sy(.699),y2:sy(.699),stroke:'#000','stroke-width':4.5},'significance-bar-black');
  stars(g,[['***',115,.758]],sx,sy,'#000','significance-stars-black');
  frame(g,1102.9,1534.8,56.7,377.3,'panel-b-left-frame');
  axisX(g,bDistTicks,bDistTickLabels,sx,377.3,398,32,[4,3,5,3,-8],'panel-b-left');
  axisY(g,unitTicks,unitTickLabels,sy,1102.9,1096,32,'panel-b-left');
  txt(g,1349,433,'Distance (nm)',34.2,'#000','middle','panel-b-left-x-axis-title');
  txt(g,1025.7,229,'Coupling probability',34.5,'#000','middle','coupling-y-axis-title',true);
  txt(g,1519,82,'High Mg^2+^/ low Ca^2+',33,TXTGRY,'end','legend-high-mg');
  txt(g,1519,112,'Glu / Gly',33.5,ORG,'end','legend-glu');
})();
(function(){
  const g=mk(svg,'g',{},'panel-b-right');
  const sx=linear(0,240,1589.5,1981.6),sy=linear(0,1,377.3,56.7);
  barsPanel('0mg',sx,bGreen,bGreenErr,'rgba(130,185,135,.45)','#83b888',g,sy);
  barsPanel('glu',sx,bOrange,bOrangeErr,'rgba(205,125,50,.45)','#cc7a2d',g,sy);
  mk(g,'line',{x1:sx(60),x2:sx(120),y1:sy(.721),y2:sy(.721),stroke:'#000','stroke-width':4.5},'significance-bar-black');
  txt(g,sx(90.6),sy(.776),'\u2265 *',32,'#000','middle','significance-ge-star');
  frame(g,1569.6,2000.9,56.7,377.3,'panel-b-right-frame');
  axisX(g,bDistTicks,bDistTickLabels,sx,377.3,398,32,[5,5,6,6,-10],'panel-b-right');
  axisY(g,unitTicks,null,sy,1569.6,0,0,'panel-b-right');
  txt(g,1816,433,'Distance (nm)',34.2,'#000','middle','panel-b-right-x-axis-title');
  txt(g,1988.7,82,'0Mg^2+^ / Gly / Bic',33,TXTGRN,'end','legend-0mg');
  txt(g,1988.7,112,'Glu / Gly',33.5,ORG,'end','legend-glu');
})();

/* ---------- Panels C, D ---------- */
function cumPanel(o){
  const g=mk(svg,'g',{},o.name);
  const sx=linear(o.d0,o.d1,o.r0,o.r1),sy=linear(0,1,949.5,533);
  o.dashed.forEach(s=>{
    addLine(g,smoothPath(o.dashX,s.y,sx,sy),s.c,9,s.n+'-band');
    g.lastChild.setAttribute('stroke-opacity','.18');
  });
  o.solid.forEach(s=>{
    addLine(g,smoothPath(o.solidX,s.y,sx,sy),s.c,9,s.n+'-band');
    g.lastChild.setAttribute('stroke-opacity','.2');
  });
  o.dashed.forEach(s=>addLine(g,smoothPath(o.dashX,s.y,sx,sy),s.c,4,s.n,'7 3'));
  o.solid.forEach(s=>addLine(g,smoothPath(o.solidX,s.y,sx,sy),s.c,4.6,s.n));
  frame(g,o.f0,o.f1,511.7,969,o.name+'-frame');
  axisX(g,o.ticks,o.tickLabels,sx,969,994,32,null,o.name);
  axisY(g,unitTicks,o.yLabels?unitTickLabels:null,sy,o.f0,o.yLabelX,32,o.name);
  txt(g,o.tx,1036,o.title,34.4,'#000','middle',o.name+'-x-axis-title');
  return g;
}
function cdLegend(x,prefix){
  txt(svg,x,546,'High Mg^2+^/ low Ca^2+',28.9,TXTGRY,'start',prefix+'-legend-high-mg');
  txt(svg,x,589,'0Mg^2+^ / Gly / Bic',28.9,TXTGRN,'start',prefix+'-legend-0mg');
  txt(svg,x,627,'Glu / Gly',29.5,TXTORG,'start',prefix+'-legend-glu');
  txt(svg,x,654,'--- coupled',28.6,TXTGRY,'start',prefix+'-legend-coupled');
  txt(svg,x,690,'- - uncoupled',28.6,TXTGRY,'start',prefix+'-legend-uncoupled');
}
cumPanel({name:'panel-c-area',d0:0,d1:14,r0:123,r1:495.5,f0:104,f1:533.8,ticks:areaTicks,tickLabels:areaTickLabels,yLabels:true,yLabelX:95.7,tx:335,title:'Area (10\u00b2 \u00b5m\u00b2)',dashX:cAreaDashX,solidX:cAreaX,
 dashed:[{y:cAreaDashGray,c:'#b0b0b0',n:'coupled-high-mg'},{y:cAreaDashGreen,c:'#a8c9a9',n:'coupled-0mg'},{y:cAreaDashOrange,c:'#d49a62',n:'coupled-glu'}],
 solid:[{y:cAreaGray,c:GRY,n:'uncoupled-high-mg'},{y:cAreaGreen,c:GRN,n:'uncoupled-0mg'},{y:cAreaOrange,c:ORG,n:'uncoupled-glu'}]});
cumPanel({name:'panel-c-eccentricity',d0:0,d1:1,r0:576,r1:974.5,f0:556.8,f1:986.6,ticks:unitTicks,tickLabels:unitTickLabels,yLabels:false,yLabelX:0,tx:755,title:'Eccentricity',dashX:eccX,solidX:eccX,
 dashed:[{y:cEccDashGray,c:'#b0b0b0',n:'coupled-high-mg'},{y:cEccDashGreen,c:'#a8c9a9',n:'coupled-0mg'},{y:cEccDashOrange,c:'#d49a62',n:'coupled-glu'}],
 solid:[{y:cEccGray,c:GRY,n:'uncoupled-high-mg'},{y:cEccGreen,c:GRN,n:'uncoupled-0mg'},{y:cEccOrange,c:ORG,n:'uncoupled-glu'}]});
cdLegend(572,'panel-c');
txt(svg,22,719,'Cumulative frequency',33.8,'#000','middle','panel-c-y-axis-title',true);
cumPanel({name:'panel-d-area',d0:0,d1:14,r0:1121,r1:1493.7,f0:1101.6,f1:1531.6,ticks:areaTicks,tickLabels:areaTickLabels,yLabels:true,yLabelX:1091,tx:1313,title:'Area (10\u00b2 \u00b5m\u00b2)',dashX:dAreaDashX,solidX:cAreaX,
 dashed:[{y:dAreaDashGray,c:'#b0b0b0',n:'coupled-high-mg'},{y:dAreaDashGreen,c:'#a8c9a9',n:'coupled-0mg'},{y:dAreaDashOrange,c:'#d49a62',n:'coupled-glu'}],
 solid:[{y:dAreaGray,c:GRY,n:'uncoupled-high-mg'},{y:dAreaGreen,c:GRN,n:'uncoupled-0mg'},{y:dAreaOrange,c:ORG,n:'uncoupled-glu'}]});
cumPanel({name:'panel-d-eccentricity',d0:0,d1:1,r0:1575.3,r1:1974,f0:1555.4,f1:1985.5,ticks:unitTicks,tickLabels:unitTickLabels,yLabels:false,yLabelX:0,tx:1745,title:'Eccentricity',dashX:eccX,solidX:eccX,
 dashed:[{y:dEccDashGray,c:'#b0b0b0',n:'coupled-high-mg'},{y:dEccDashGreen,c:'#a8c9a9',n:'coupled-0mg'},{y:dEccDashOrange,c:'#d49a62',n:'coupled-glu'}],
 solid:[{y:dEccGray,c:GRY,n:'uncoupled-high-mg'},{y:dEccGreen,c:GRN,n:'uncoupled-0mg'},{y:dEccOrange,c:ORG,n:'uncoupled-glu'}]});
cdLegend(1571,'panel-d');
txt(svg,1018,719,'Cumulative frequency',33.8,'#000','middle','panel-d-y-axis-title',true);

/* ---------- Panel E ---------- */
(function(){
  const g=mk(svg,'g',{},'panel-e');
  const sx=linear(0,2529,0,1000),sy=linear(0,2877,1060,2060);
  mk(g,'path',{d:closedPath(eBlobMain,sx,sy),fill:'#7aa681'},'umap-cloud');
  mk(g,'path',{d:closedPath(eBlobCap,sx,sy),fill:'#8fbb92'},'umap-green-cap');
  mk(g,'path',{d:closedPath(eBlobIsland,sx,sy),fill:'#8cb88f'},'umap-green-island');
  eBlackU.forEach((u,i)=>mk(g,'circle',{cx:sx(u),cy:sy(eBlackV[i]),r:4.1,fill:'#08120c'},'umap-point-high-mg'));
  eBlackRowU.forEach((row,j)=>row.forEach(u=>mk(g,'circle',{cx:sx(u),cy:sy(eBlackRowV[j]),r:3.6,fill:'#0c1810'},'umap-point-high-mg')));
  eOrangeU.forEach((u,i)=>mk(g,'circle',{cx:sx(u),cy:sy(eOrangeV[i]),r:4.2,fill:'#c98a45'},'umap-point-glu'));
  eHoles.forEach(h=>mk(g,'ellipse',{cx:sx(h[0]),cy:sy(h[1]),rx:h[2]/2.529,ry:h[3]/2.877,fill:'#fff'},'umap-gap'));
  frame(g,105,547,1095.8,1557,'panel-e-frame');
  axisX(g,eTicksX,null,sx,1557,0,0,null,'panel-e');
  axisY(g,eTicksY,null,sy,105,0,0,'panel-e');
  txt(g,334,1588,'UMAP1',34,'#000','middle','umap1-axis-title');
  txt(g,63,1319,'UMAP2',34,'#000','middle','umap2-axis-title',true);
  txt(g,160,1456,'High Mg^2+^/ low Ca^2+',24.8,TXTGRY,'start','legend-high-mg');
  txt(g,160,1498.6,'0Mg^2+^ / Gly / Bic',24.8,TXTGRN,'start','legend-0mg');
  txt(g,160,1536,'Glu / Gly',24.8,ORG,'start','legend-glu');
})();

/* ---------- Panel F ---------- */
function contour(g,pts,fill,sx,sy,name){
  mk(g,'path',{d:closedPath(pts,sx,sy),fill:fill,stroke:'#000','stroke-width':2.5},name);
}
function rings(g,base,c,scales,fills,sx,sy,name){
  scales.forEach((s,i)=>{
    const pts=base.map(p=>[c[0]+(p[0]-c[0])*s,c[1]+(p[1]-c[1])*s]);
    contour(g,pts,fills[i],sx,sy,name);
  });
}
function ellipses(g,c,radii,fills,sx,sy,name){
  const kx=sx(1)-sx(0),ky=sy(1)-sy(0);
  radii.forEach((r,i)=>mk(g,'ellipse',{cx:sx(c[0]),cy:sy(c[1]),rx:r[0]*kx,ry:r[1]*ky,fill:fills[i],stroke:'#000','stroke-width':2.5},name));
}
function markers(g,ids,mu,mv,nu,nv,lines,sx,sy){
  lines.forEach(l=>mk(g,'line',{x1:sx(mu[l[0]]),y1:sy(mv[l[0]]),x2:sx(l[1]),y2:sy(l[2]),stroke:'#f01414','stroke-width':2},'cluster-leader-'+ids[l[0]]));
  ids.forEach((id,i)=>{
    mk(g,'circle',{cx:sx(mu[i]),cy:sy(mv[i]),r:4,fill:'#f01414'},'cluster-dot-'+id);
    txt(g,sx(nu[i]),sy(nv[i]),id,33,'#f01414','middle','cluster-number-'+id);
  });
}
function clip(id,x0,x1,y0,y1){
  const c=document.createElementNS(NS,'clipPath');
  c.setAttribute('id',id);
  const r=document.createElementNS(NS,'rect');
  r.setAttribute('x',x0);r.setAttribute('y',y0);r.setAttribute('width',x1-x0);r.setAttribute('height',y1-y0);
  c.appendChild(r);svg.appendChild(c);
}
(function(){
  const g=mk(svg,'g',{},'panel-f-high-mg');
  const sx=linear(0,1500,600,1100),sy=linear(0,2877,1060,2060);
  clip('f1c',649,1080.7,1104.5,1557);
  const p=mk(g,'g',{'clip-path':'url(#f1c)'},'contour-plot-high-mg');
  f1Layers.slice(0,4).forEach((c,i)=>contour(p,c,f1LayerFills[i],sx,sy,'density-contour'));
  rings(p,f1Lobe1,f1Lobe1Center,f1Lobe1Scales,f1Lobe1Fills,sx,sy,'density-contour-lobe-1');
  contour(p,f1Lobe1Core,'#777777',sx,sy,'density-contour-lobe-1-core');
  f1Layers.slice(4).forEach((c,i)=>contour(p,c,f1LayerFills[i+4],sx,sy,'density-contour'));
  rings(p,f1Lobe9,f1Lobe9Center,f1Lobe9Scales,f1Lobe9Fills,sx,sy,'density-contour-lobe-9');
  rings(p,f1Peak6,f1Peak6Center,f1Peak6Scales,f1Peak6Fills,sx,sy,'density-contour-peak-6');
  markers(p,f1MarkerIds,f1MarkerU,f1MarkerV,f1NumberU,f1NumberV,[[5,1385,545]],sx,sy);
  frame(g,649,1080.7,1104.5,1557,'panel-f-high-mg-frame');
  axisX(g,f1TicksX,null,sx,1557,0,0,null,'panel-f-high-mg');
  axisY(g,f1TicksY,null,sy,649,0,0,'panel-f-high-mg');
  txt(g,870,1588,'UMAP1',34,'#000','middle','umap1-axis-title');
  txt(g,617,1319,'UMAP2',34,'#000','middle','umap2-axis-title',true);
  txt(g,1073,1534,'High Mg^2+^/ low Ca^2+',33.4,TXTGRY,'end','legend-high-mg');
})();
(function(){
  const g=mk(svg,'g',{},'panel-f-0mg');
  const sx=linear(0,1500,1090,1590),sy=linear(0,1500,1090,1590);
  clip('f2c',1109.3,1542.7,1105,1555);
  const p=mk(g,'g',{'clip-path':'url(#f2c)'},'contour-plot-0mg');
  f2Layers.forEach((c,i)=>contour(p,c,f2LayerFills[i],sx,sy,'density-contour'));
  ellipses(p,f2Peak10Center,f2Peak10Radii,f2Peak10Fills,sx,sy,'density-contour-peak-10');
  ellipses(p,f2Peak1Center,f2Peak1Radii,f2Peak1Fills,sx,sy,'density-contour-peak-1');
  markers(p,f2MarkerIds,f2MarkerU,f2MarkerV,f2NumberU,f2NumberV,[[0,245,1205],[9,1095,165]],sx,sy);
  frame(g,1109.3,1542.7,1105,1555,'panel-f-0mg-frame');
  axisX(g,f2TicksX,null,sx,1555,0,0,null,'panel-f-0mg');
  axisY(g,f2TicksY,null,sy,1109.3,0,0,'panel-f-0mg');
  txt(g,1343,1588,'UMAP1',34,'#000','middle','umap1-axis-title');
  txt(g,1535,1533,'0Mg^2+^ / Gly / Bic',33.4,TXTGRN,'end','legend-0mg');
})();
(function(){
  const g=mk(svg,'g',{},'panel-f-glu');
  const sx=linear(0,1500,1550,2050),sy=linear(0,1500,1090,1590);
  clip('f3c',1570.7,2003.3,1104.3,1555);
  const p=mk(g,'g',{'clip-path':'url(#f3c)'},'contour-plot-glu');
  f3Layers.forEach((c,i)=>contour(p,c,f3LayerFills[i],sx,sy,'density-contour'));
  rings(p,f3Lobe1,f3Lobe1Center,f3Lobe1Scales,f3Lobe1Fills,sx,sy,'density-contour-lobe-1');
  contour(p,f3Lobe1Core,'#cb9250',sx,sy,'density-contour-lobe-1-core');
  markers(p,f3MarkerIds,f3MarkerU,f3MarkerV,f3NumberU,f3NumberV,[],sx,sy);
  frame(g,1570.7,2003.3,1104.3,1555,'panel-f-glu-frame');
  axisX(g,f3TicksX,null,sx,1555,0,0,null,'panel-f-glu');
  axisY(g,f3TicksY,null,sy,1570.7,0,0,'panel-f-glu');
  txt(g,1818,1588,'UMAP1',34,'#000','middle','umap1-axis-title');
  txt(g,1994,1533,'Glu / Gly',33.5,TXTORG,'end','legend-glu');
})();
</script>
</body>
</html>
